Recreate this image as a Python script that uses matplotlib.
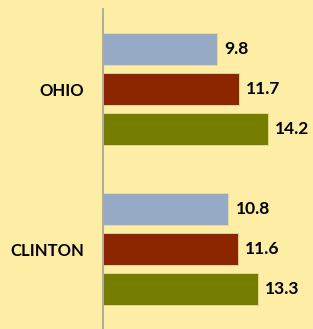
import matplotlib
matplotlib.use("Agg")
import matplotlib.pyplot as plt

categories = ["OHIO", "CLINTON"]
series_a = [9.8, 10.8]
series_b = [11.7, 11.6]
series_c = [14.2, 13.3]
colors = ["#97AAC5", "#8B2600", "#767E00"]
bg = "#FEEDA4"

fig = plt.figure(figsize=(3.13, 3.29), dpi=100)
fig.patch.set_facecolor(bg)
W, H = 313, 329
ax = fig.add_axes([103 / W, 0, (W - 103) / W, 320 / H])
ax.set_facecolor(bg)

plt.rcParams['font.family'] = ['Lato', 'DejaVu Sans']

for gi, cat in enumerate(categories):
    base = gi * 4
    for si, vals in enumerate([series_a, series_b, series_c]):
        y = base + si
        v = vals[gi]
        ax.barh(y, v, height=0.8, color=colors[si], edgecolor="#E8DCA0", linewidth=0.6)
        ax.text(v + 0.6, y, f"{v:.1f}", va="center", ha="left",
                fontsize=12.5, fontweight="bold", color="black", family=['Lato', 'DejaVu Sans'])

ax.set_ylim(7, -1)
ax.set_xlim(0, 210 / 11.62)
ax.set_yticks([1, 5])
ax.set_yticklabels(categories, fontsize=12, fontweight="bold", family=['Lato', 'DejaVu Sans'])
ax.tick_params(axis="y", length=0, pad=13.7)
ax.set_xticks([])
for s in ["top", "right", "bottom"]:
    ax.spines[s].set_visible(False)
ax.spines["left"].set_color("#A6A6A6")
ax.spines["left"].set_linewidth(1.3)

fig.savefig("out.png", dpi=100, facecolor=bg)
